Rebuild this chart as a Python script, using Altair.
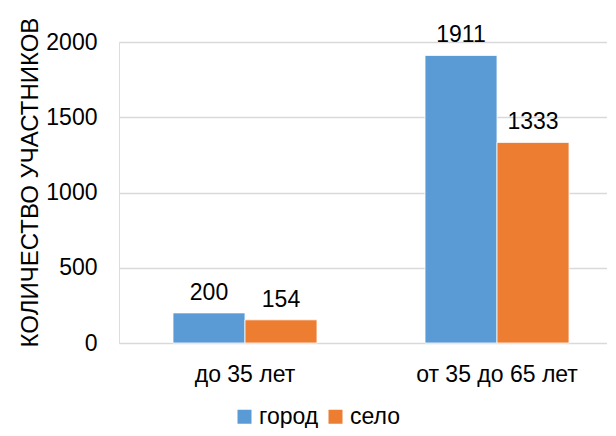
import altair as alt
import pandas as pd

categories = ["до 35 лет", "от 35 до 65 лет"]
series = ["город", "село"]
gorod = [200, 1911]
selo = [154, 1333]

rows = []
for i, c in enumerate(categories):
    rows.append({"cat": c, "s": "город", "v": gorod[i]})
    rows.append({"cat": c, "s": "село", "v": selo[i]})
df = pd.DataFrame(rows)

FONT = "Liberation Sans"
FS = 23

color = alt.Color("s:N", scale=alt.Scale(domain=series, range=["#5B9BD5", "#ED7D31"]),
                  legend=alt.Legend(title=None, orient="none", direction="horizontal",
                                    legendX=114, legendY=363, symbolType="square",
                                    symbolSize=196, symbolStrokeWidth=0, labelFontSize=FS,
                                    labelFont=FONT, labelColor="#000000", labelOffset=3,
                                    columnPadding=5))

x = alt.X("cat:N", sort=categories, title=None,
          scale=alt.Scale(paddingInner=0.4286, paddingOuter=0.1825, align=0.587),
          axis=alt.Axis(labelAngle=0, labelFontSize=FS, labelFont=FONT, labelColor="#000000",
                        tickSize=0, labelPadding=20, domainColor="#D9D9D9", domainWidth=1))
y = alt.Y("v:Q", title="КОЛИЧЕСТВО УЧАСТНИКОВ",
          scale=alt.Scale(domain=[0, 2000], nice=False),
          axis=alt.Axis(values=[0, 500, 1000, 1500, 2000], format="d", labelFontSize=FS,
                        labelFont=FONT, labelColor="#000000", tickSize=0, labelPadding=22,
                        domain=False, gridColor="#D9D9D9", gridWidth=1.3, titleFont=FONT,
                        titleFontSize=24, titleFontWeight="normal", titleColor="#000000",
                        titleAngle=270, titleBaseline="middle", titleAlign="center",
                        titleX=-89, titleY=140))

bars = alt.Chart(df).mark_bar(stroke="white", strokeWidth=0.8).encode(
    x=x, y=y, color=color, xOffset=alt.XOffset("s:N", sort=series))
labels = alt.Chart(df).mark_text(fontSize=FS, font=FONT, color="#000000", baseline="alphabetic",
                                 dy=-13).encode(
    x=x, y=y, xOffset=alt.XOffset("s:N", sort=series), text="v:Q")

chart = (bars + labels).properties(
    width=488, height=301,
    autosize=alt.AutoSizeParams(type="none"),
    padding={"left": 111, "top": 34, "right": 0, "bottom": 85},
).configure_view(stroke=None).configure(font=FONT)

chart.save("out.html", embed_options={"renderer": "svg", "actions": False})
